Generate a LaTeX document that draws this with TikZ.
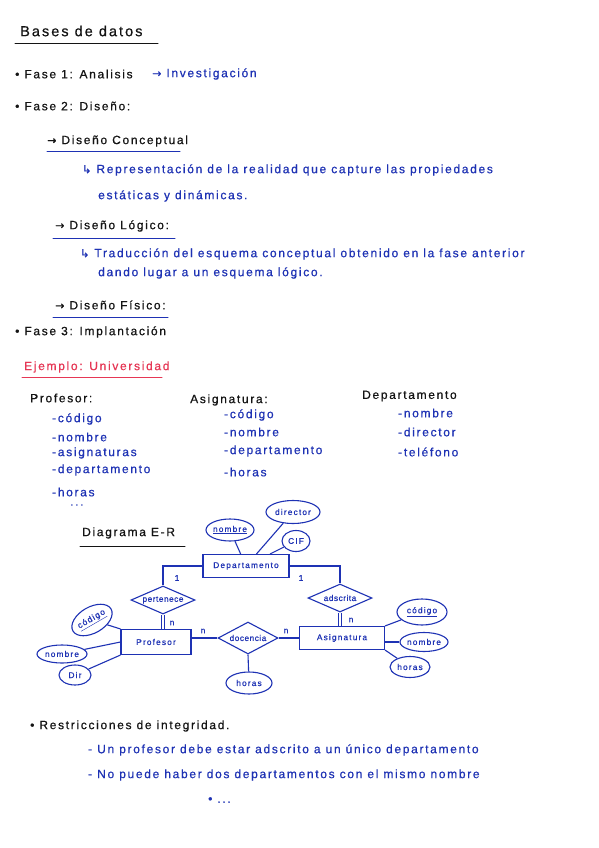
\documentclass[tikz,border=0pt]{standalone}
\usepackage{fontspec}
\setmainfont{Liberation Sans}
\newfontfamily\hand[LetterSpace=14,FakeBold=0.6]{Liberation Sans}
\newfontfamily\handn[LetterSpace=6,FakeBold=0.6]{Liberation Sans}
\newfontfamily\symf[FakeBold=0.6]{DejaVu Sans}
\usetikzlibrary{shapes.geometric}
\definecolor{ink}{RGB}{30,50,180}
\definecolor{redink}{RGB}{230,55,85}
\definecolor{blk}{RGB}{20,20,20}
\newcommand{\rarr}{{\symf\fontsize{11}{12}\selectfont →}}
\newcommand{\larr}{{\symf\fontsize{11}{12}\selectfont ↳}}
\tikzset{
  txt/.style={anchor=west, inner sep=0pt, font=\hand\fontsize{12}{13}\selectfont},
  btxt/.style={txt, text=ink},
  ktxt/.style={txt, text=blk},
  rtxt/.style={txt, text=redink},
  uline/.style={line width=1pt, line cap=round},
  erf/.style={font=\hand\fontsize{8.3}{9}\selectfont, text=ink},
  ent/.style={draw=ink, line width=1.1pt, erf, inner sep=1pt},
  rel/.style={draw=ink, line width=1.1pt, diamond, aspect=2, inner sep=0pt, erf, font=\handn\fontsize{8.3}{9}\selectfont},
  att/.style={draw=ink, line width=1.1pt, ellipse, inner sep=0pt, erf},
  lnk/.style={draw=ink, line width=1.1pt},
  card/.style={erf, inner sep=0pt}
}
\begin{document}
\begin{tikzpicture}[x=1pt,y=-1pt]
\fill[white] (0,0) rectangle (599,848);
\useasboundingbox (0,0) rectangle (599,848);

% title
\node[ktxt, font=\hand\fontsize{14.5}{16}\selectfont] (title) at (20,31) {Bases de datos};
\draw[uline, blk] (15,44) -- (158,44);

\node[ktxt] (f1) at (15,74) {• Fase 1: Analisis};
\node[btxt] (inv) at (152,74) {\rarr\ Investigación};
\node[ktxt] (f2) at (15,106) {• Fase 2: Diseño:};

\node[ktxt] (dc) at (47,141) {\rarr\ Diseño Conceptual};
\draw[uline, ink] (47,151) -- (180,151);
\node[btxt] (rep) at (82,170) {\larr\ Representación de la realidad que capture las propiedades};
\node[btxt] (rep2) at (98,196) {estáticas y dinámicas.};

\node[ktxt] (dl) at (55,226) {\rarr\ Diseño Lógico:};
\draw[uline, ink] (53,238) -- (175,238);
\node[btxt] (tr) at (80,254) {\larr\ Traducción del esquema conceptual obtenido en la fase anterior};
\node[btxt] (tr2) at (98,273) {dando lugar a un esquema lógico.};

\node[ktxt] (df) at (55,305) {\rarr\ Diseño Físico:};
\draw[uline, ink] (53,317) -- (168,317);
\node[ktxt] (f3) at (15,332) {• Fase 3: Implantación};

\node[rtxt] (ej) at (24,367) {Ejemplo: Universidad};
\draw[uline, redink] (22,377) -- (162,377);

% Profesor list
\node[ktxt] (lp) at (30,398) {Profesor:};
\node[btxt] (lp1) at (52,419) {-código};
\node[btxt] (lp2) at (52,437) {-nombre};
\node[btxt] (lp3) at (52,453) {-asignaturas};
\node[btxt] (lp4) at (52,470) {-departamento};
\node[btxt] (lp5) at (52,492) {-horas};
\node[btxt] (lp6) at (70,505) {...};

% Asignatura list
\node[ktxt] (la) at (190,400) {Asignatura:};
\node[btxt] (la1) at (224,415) {-código};
\node[btxt] (la2) at (224,432) {-nombre};
\node[btxt] (la3) at (224,451) {-departamento};
\node[btxt] (la4) at (224,472) {-horas};

% Departamento list
\node[ktxt] (ld) at (362,396) {Departamento};
\node[btxt] (ld1) at (398,413) {-nombre};
\node[btxt] (ld2) at (398,432) {-director};
\node[btxt] (ld3) at (398,452) {-teléfono};

% Diagrama E-R
\node[ktxt] (der) at (82,533) {Diagrama E-R};
\draw[uline, blk] (80,546) -- (185,546);

% ER diagram
\node[ent, minimum width=86, minimum height=23] (dep) at (246,566) {Departamento};
\node[att, minimum width=46, minimum height=22] (dnom) at (230,530) {\underline{nombre}};
\node[att, minimum width=54, minimum height=23] (ddir) at (293,512) {director};
\node[att, minimum width=28, minimum height=21] (dcif) at (296,541) {CIF};
\draw[lnk] (dnom) -- (dep);
\draw[lnk] (ddir) -- (dep);
\draw[lnk] (dcif) -- (dep);

\node[rel, minimum width=64, minimum height=28] (pert) at (163,600) {pertenece};
\node[rel, minimum width=64, minimum height=28] (adsc) at (340,598) {adscrita};
\draw[lnk] (dep.west) -| (pert.north);
\draw[lnk] (dep.east) -| (adsc.north);
\node[card] (c1) at (177,578) {1};
\node[card] (c2) at (301,578) {1};

\node[ent, minimum width=70, minimum height=25] (prof) at (156,642) {Profesor};
\node[ent, minimum width=85, minimum height=23] (asig) at (342,638) {Asignatura};
\draw[lnk, double=white, double distance=2pt] (pert.south) -- (pert.south |- prof.north);
\draw[lnk, double=white, double distance=2pt] (adsc.south) -- (adsc.south |- asig.north);
\node[card] (c3) at (172,623) {n};
\node[card] (c4) at (351,620) {n};

\node[rel, minimum width=60, minimum height=32] (doc) at (248,638) {docencia};
\draw[lnk] (prof.east |- doc.west) -- (doc.west);
\draw[lnk] (doc.east) -- (asig.west |- doc.east);
\node[card] (c5) at (203,631) {n};
\node[card] (c6) at (286,631) {n};
\node[att, minimum width=46, minimum height=22] (dhor) at (249,683) {horas};
\draw[lnk] (doc.south) -- (dhor);

% Profesor attributes
\node[att, minimum width=44, minimum height=26, rotate=30] (pcod) at (92,620) {\underline{código}};
\node[att, minimum width=50, minimum height=18] (pnom) at (62,654) {nombre};
\node[att, minimum width=32, minimum height=20] (pdir) at (75,675) {Dir};
\draw[lnk] (pcod) -- (prof.north west);
\draw[lnk] (pnom) -- (prof.west);
\draw[lnk] (pdir) -- (prof.south west);

% Asignatura attributes
\node[att, minimum width=50, minimum height=26] (acod) at (422,612) {\underline{código}};
\node[att, minimum width=46, minimum height=19] (anom) at (424,642) {nombre};
\node[att, minimum width=40, minimum height=21] (ahor) at (410,667) {horas};
\draw[lnk] (acod) -- (asig.north east);
\draw[lnk] (anom) -- (asig.east |- anom.west);
\draw[lnk] (ahor) -- (asig.south east);

% Restricciones
\node[ktxt] (res) at (30,726) {• Restricciones de integridad.};
\node[btxt] (r1) at (88,750) {- Un profesor debe estar adscrito a un único departamento};
\node[btxt] (r2) at (88,775) {- No puede haber dos departamentos con el mismo nombre};
\node[btxt] (r3) at (208,800) {• ...};
\end{tikzpicture}
\end{document}
